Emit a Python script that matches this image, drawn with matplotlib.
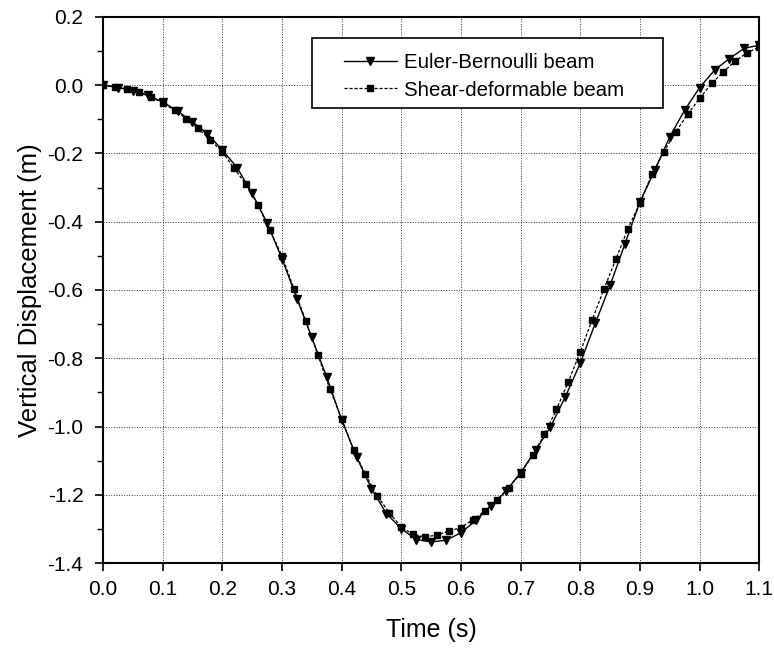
import numpy as np
import matplotlib
matplotlib.use("Agg")
import matplotlib.pyplot as plt
from matplotlib.patches import Rectangle
from matplotlib.ticker import MultipleLocator

plt.rcParams['font.family'] = ['Liberation Sans', 'DejaVu Sans']

# Euler-Bernoulli beam, sampled every 0.025 s
t_euler = np.round(np.arange(0, 1.1001, 0.025), 3)
v_euler = [0.0, -0.007, -0.017, -0.030, -0.049, -0.076, -0.107, -0.142, -0.190,
           -0.242, -0.317, -0.403, -0.508, -0.625, -0.739, -0.855, -0.980, -1.089,
           -1.182, -1.255, -1.299, -1.331, -1.338, -1.333, -1.311, -1.275, -1.233,
           -1.190, -1.135, -1.070, -1.001, -0.913, -0.814, -0.698, -0.586, -0.464,
           -0.342, -0.249, -0.151, -0.073, -0.007, 0.044, 0.078, 0.108, 0.117]

# Shear-deformable beam, sampled every 0.02 s
t_shear = np.round(np.arange(0, 1.1001, 0.02), 3)
v_shear = [0.0, -0.005, -0.010, -0.020, -0.034, -0.052, -0.074, -0.098, -0.127,
           -0.161, -0.195, -0.244, -0.291, -0.352, -0.425, -0.500, -0.596, -0.690,
           -0.789, -0.889, -0.977, -1.068, -1.140, -1.204, -1.253, -1.294, -1.316,
           -1.323, -1.318, -1.306, -1.296, -1.273, -1.247, -1.216, -1.179, -1.138,
           -1.084, -1.023, -0.950, -0.869, -0.781, -0.687, -0.596, -0.508, -0.420,
           -0.345, -0.261, -0.195, -0.137, -0.085, -0.039, 0.005, 0.039, 0.071,
           0.095, 0.112]

fig = plt.figure(figsize=(7.74, 6.48), dpi=100)
ax = fig.add_axes([0.133, 0.131, 0.848, 0.843])

ax.plot(t_euler, v_euler, color='black', linestyle='-', linewidth=1.0,
        marker='v', markersize=6, label='Euler-Bernoulli beam')
ax.plot(t_shear, v_shear, color='black', linestyle=(0, (2.5, 1.5)), linewidth=0.9,
        marker='s', markersize=5, label='Shear-deformable beam')

ax.set_xlim(0, 1.1)
ax.set_ylim(-1.4, 0.2)
ax.xaxis.set_major_locator(MultipleLocator(0.1))
ax.yaxis.set_major_locator(MultipleLocator(0.2))
ax.yaxis.set_minor_locator(MultipleLocator(0.1))
ax.xaxis.set_major_formatter(plt.FormatStrFormatter('%.1f'))
ax.yaxis.set_major_formatter(plt.FormatStrFormatter('%.1f'))

ax.grid(True, which='major', color='black', linestyle=':', linewidth=0.7, alpha=0.8)
ax.tick_params(axis='both', which='major', direction='out', length=6, width=1.2,
               labelsize=15, top=False, right=False)
ax.tick_params(axis='x', which='major', pad=6)
ax.tick_params(axis='y', which='major', pad=8)
ax.tick_params(axis='y', which='minor', direction='out', length=4, width=1.0)
for s in ax.spines.values():
    s.set_linewidth(1.5)

ax.set_xlabel('Time (s)', fontsize=18, labelpad=14)
ax.set_ylabel('Vertical Displacement (m)', fontsize=18.5, labelpad=4)

# legend: frame drawn as a box, entries placed inside with a wide left margin
box = Rectangle((0.319, 0.834), 0.534, 0.128, transform=ax.transAxes,
                facecolor='white', edgecolor='black', linewidth=1.2, zorder=4)
ax.add_patch(box)
leg = ax.legend(loc='upper left', bbox_to_anchor=(0.367, 0.933),
                borderaxespad=0, borderpad=0, fontsize=14.7, frameon=False,
                handlelength=2.6, labelspacing=0.4, handletextpad=0.35)
leg.set_zorder(5)

plt.savefig('out.png', dpi=100)
